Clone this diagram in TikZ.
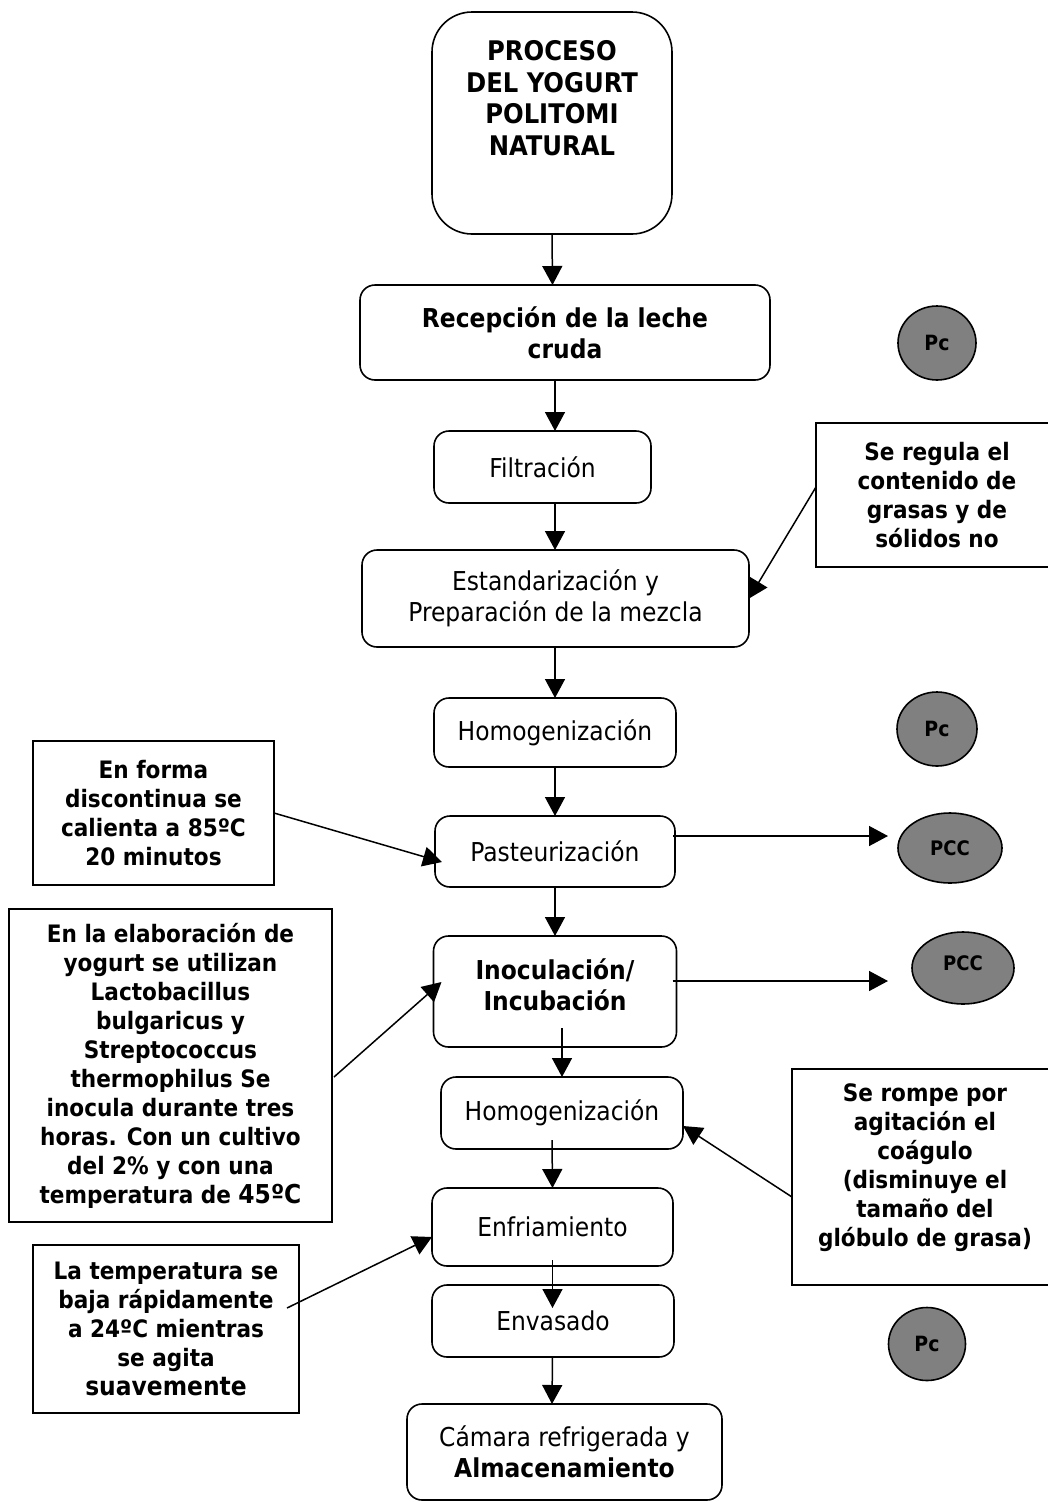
\documentclass[tikz,border=0pt]{standalone}
\usepackage{fontspec}
\setmainfont{DejaVu Sans Condensed}
\usetikzlibrary{arrows.meta,shapes.geometric}
\definecolor{pcgray}{RGB}{128,128,128}
\tikzset{
  every node/.style={inner sep=0pt, outer sep=0pt},
  stepbox/.style={draw, line width=1.6pt, rounded corners=15pt, align=center, font=\fontsize{26}{31}\selectfont},
  boldbox/.style={stepbox, font=\fontsize{26}{31}\selectfont\bfseries},
  notebox/.style={draw, line width=1.6pt, align=center, font=\fontsize{24}{29}\selectfont\bfseries},
  pcnode/.style={ellipse, draw, line width=1.6pt, fill=pcgray, font=\fontsize{21}{22}\selectfont\bfseries},
  arr/.style={line width=1.5pt, -{Triangle[length=19pt,width=20pt]}},
  plain/.style={align=center},
}
\begin{document}
\begin{tikzpicture}[x=1pt,y=-1pt]
\useasboundingbox (0,0) rectangle (1048,1502);
\clip (0,0) rectangle (1048,1502);
\fill[white] (0,0) rectangle (1048,1502);

% title
\node[draw, line width=1.6pt, rounded corners=40pt, minimum width=240pt, minimum height=222pt] (title) at (552,123) {};
\node[plain, font=\fontsize{27}{31.5}\selectfont\bfseries] (titletext) at (552,98) {PROCESO\\DEL YOGURT\\POLITOMI\\NATURAL};

% main steps
\node[boldbox, minimum width=410pt, minimum height=95pt] (recep) at (565,332.5) {Recepción de la leche\\cruda};
\node[stepbox, minimum width=217pt, minimum height=72pt] (filt) at (542.5,467) {Filtración};
\node[stepbox, minimum width=387pt, minimum height=97pt] (estand) at (555.5,598.5) {Estandarización y\\Preparación de la mezcla};
\node[stepbox, minimum width=242pt, minimum height=69pt] (homog1) at (555,732.5) {Homogenización};
\node[stepbox, minimum width=240pt, minimum height=71pt] (past) at (555,851.5) {Pasteurización};
\node[boldbox, minimum width=243pt, minimum height=111pt] (inoc) at (555,991.5) {};
\node[plain, font=\fontsize{26}{31}\selectfont\bfseries] (inoctext) at (555,985) {Inoculación/\\Incubación};
\node[stepbox, minimum width=242pt, minimum height=72pt] (homog2) at (562,1113) {Homogenización};
\node[stepbox, minimum width=241pt, minimum height=78pt] (enfr) at (552.5,1227) {Enfriamiento};
\node[stepbox, minimum width=242pt, minimum height=72pt] (envas) at (553,1321) {Envasado};
\node[stepbox, minimum width=315pt, minimum height=96pt] (camara) at (564.5,1452) {Cámara refrigerada y\\\textbf{Almacenamiento}};

% notes
\node[notebox, minimum width=242pt, minimum height=144pt] (rn1) at (937,495) {Se regula el\\contenido de\\grasas y de\\sólidos no};
\node[notebox, minimum width=241pt, minimum height=144pt] (ln1) at (153.5,813) {En forma\\discontinua se\\calienta a 85ºC\\20 minutos};
\node[notebox, minimum width=323pt, minimum height=313pt] (ln2) at (170.5,1065.5) {En la elaboración de\\yogurt se utilizan\\Lactobacillus\\bulgaricus y\\Streptococcus\\thermophilus Se\\inocula durante tres\\horas. Con un cultivo\\del 2\% y con una\\temperatura de \fontsize{26}{29}\selectfont 45ºC};
\node[draw, line width=1.6pt, minimum width=266pt, minimum height=216pt] (rn2) at (925,1177) {};
\node[plain, font=\fontsize{24}{29}\selectfont\bfseries] (rn2text) at (925,1167.5) {Se rompe por\\agitación el\\coágulo\\(disminuye el\\tamaño del\\glóbulo de grasa)};
\node[notebox, minimum width=266pt, minimum height=168pt] (ln3) at (166,1329) {La temperatura se\\baja rápidamente\\a 24ºC mientras\\se agita\\\fontsize{26}{29}\selectfont suavemente};

% control points
\node[pcnode, minimum width=78pt, minimum height=74pt] (pc1) at (937,343) {Pc};
\node[pcnode, minimum width=80pt, minimum height=74pt] (pc2) at (937,729) {Pc};
\node[pcnode, minimum width=104pt, minimum height=70pt, font=\fontsize{20}{22}\selectfont\bfseries] (pcc1) at (950,848) {PCC};
\node[pcnode, minimum width=102pt, minimum height=72pt, font=\fontsize{20}{22}\selectfont\bfseries, text depth=10pt] (pcc2) at (963,968) {PCC};
\node[pcnode, minimum width=77pt, minimum height=73pt] (pc3) at (927,1344) {Pc};

% connectors
\draw[arr] (title.south) -- ([xshift=-12.5pt]recep.north);
\draw[arr] ([xshift=-10pt]recep.south) -- ([xshift=12.5pt]filt.north);
\draw[arr] ([xshift=12.5pt]filt.south) -- ([xshift=-0.5pt]estand.north);
\draw[arr] ([xshift=-0.5pt]estand.south) -- (homog1.north);
\draw[arr] (homog1.south) -- (past.north);
\draw[arr] (past.south) -- (inoc.north);
\draw[arr] ([xshift=7pt,yshift=19pt]inoc.south) -- (homog2.north);
\draw[arr] ([xshift=-10pt,yshift=9pt]homog2.south) -- (enfr.north);
\draw[arr] ([yshift=6pt]enfr.south) -- ([xshift=-0.5pt,yshift=-23pt]envas.north);
\draw[arr] ([xshift=-0.5pt]envas.south) -- ([xshift=-12.5pt]camara.north);
\draw[arr] ([xshift=-2pt,yshift=15.5pt]past.east) -- ([xshift=-10pt,yshift=12pt]pcc1.west);
\draw[arr] ([xshift=-4pt,yshift=10.5pt]inoc.east) -- ([xshift=-24pt,yshift=-13pt]pcc2.west);
\draw[arr] ([yshift=8pt]rn1.west) -- (estand.east);
\draw[arr] (ln1.east) -- ([xshift=7pt,yshift=-10.5pt]past.west);
\draw[arr] ([xshift=2pt,yshift=-11.5pt]ln2.east) -- ([xshift=8pt,yshift=9.5pt]inoc.west);
\draw[arr] ([yshift=-20pt]rn2.west) -- ([yshift=-13pt]homog2.east);
\draw[arr] ([xshift=-12pt,yshift=21pt]ln3.east) -- ([yshift=-10pt]enfr.west);
\end{tikzpicture}
\end{document}
